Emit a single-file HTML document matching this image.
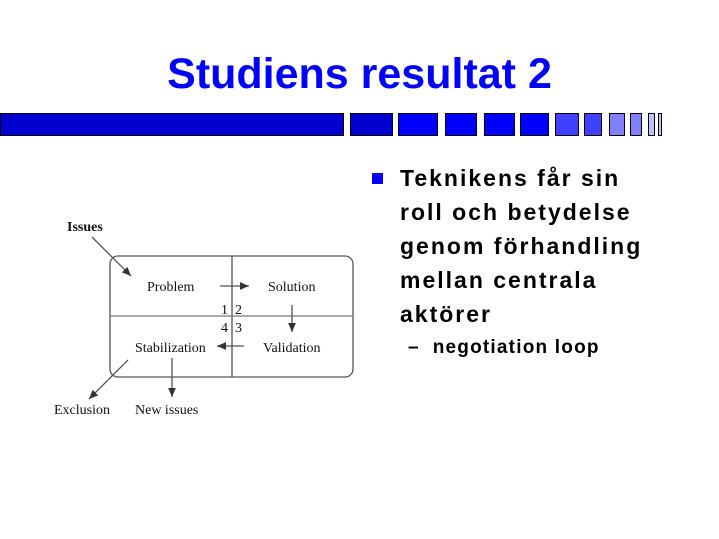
<!DOCTYPE html>
<html><head><style>
body{margin:0;width:719px;height:539px;background:#fff;position:relative;overflow:hidden;font-family:"Liberation Sans",sans-serif}
.t{position:absolute;left:0;width:719px;top:50px;text-align:center;color:#0000ff;font-weight:bold;font-size:43px}
.b{position:absolute;top:113px;height:23px;border:1px solid #000;box-sizing:border-box}
.txt{position:absolute;left:400px;top:161px;font-weight:bold;font-size:23px;line-height:34px;letter-spacing:2px;color:#000}
</style></head><body>
<div class="t">Studiens resultat 2</div>
<div class="b" style="left:0;width:344px;background:#0000d0"></div>
<div class="b" style="left:350px;width:43px;background:#0000d0"></div>
<div class="b" style="left:398px;width:40px;background:#0000ff"></div>
<div class="b" style="left:445px;width:32px;background:#0000ff"></div>
<div class="b" style="left:484px;width:31px;background:#0000ff"></div>
<div class="b" style="left:520px;width:29px;background:#0000ff"></div>
<div class="b" style="left:555px;width:24px;background:#4040ff"></div>
<div class="b" style="left:584px;width:18px;background:#4040ff"></div>
<div class="b" style="left:609px;width:16px;background:#8080ff"></div>
<div class="b" style="left:630px;width:12px;background:#8080ff"></div>
<div class="b" style="left:648px;width:7px;background:#c0c0ff"></div>
<div class="b" style="left:658px;width:4px;background:#c0c0ff"></div>
<div style="position:absolute;left:372px;top:173px;width:11px;height:11px;background:#0000ff"></div>
<div class="txt">Teknikens får sin<br>roll och betydelse<br>genom förhandling<br>mellan centrala<br>aktörer</div>
<div style="position:absolute;left:408px;top:337px;font-weight:bold;font-size:19px;letter-spacing:1.2px;color:#000">–&nbsp;&nbsp;negotiation loop</div>
<svg style="position:absolute;left:0;top:0" width="719" height="539">
<defs><marker id="a" markerWidth="8" markerHeight="8" refX="7" refY="4" orient="auto"><path d="M0,1L7,4L0,7z" fill="#333"/></marker></defs>
<g font-family="Liberation Serif,serif" font-size="14" fill="#111">
<rect x="110" y="256" width="243" height="121" rx="8" fill="none" stroke="#555" stroke-width="1.3"/>
<line x1="232" y1="256" x2="232" y2="377" stroke="#555" stroke-width="1.3"/>
<line x1="110" y1="316" x2="353" y2="316" stroke="#777" stroke-width="1.2"/>
<g stroke="#555" stroke-width="1.3" fill="none" marker-end="url(#a)">
<line x1="92" y1="237" x2="131" y2="276"/>
<line x1="220" y1="286" x2="249" y2="286"/>
<line x1="292" y1="305" x2="292" y2="332"/>
<line x1="244" y1="346" x2="217" y2="346"/>
<line x1="128" y1="360" x2="89" y2="399"/>
<line x1="172" y1="358" x2="172" y2="397"/>
</g>
<text x="67" y="231" font-weight="bold">Issues</text>
<text x="147" y="291">Problem</text>
<text x="268" y="291">Solution</text>
<text x="221" y="314">1</text><text x="235" y="314">2</text>
<text x="221" y="332">4</text><text x="235" y="332">3</text>
<text x="135" y="352">Stabilization</text>
<text x="263" y="352">Validation</text>
<text x="54" y="414">Exclusion</text>
<text x="135" y="414">New issues</text>
</g>
</svg>
</body></html>
